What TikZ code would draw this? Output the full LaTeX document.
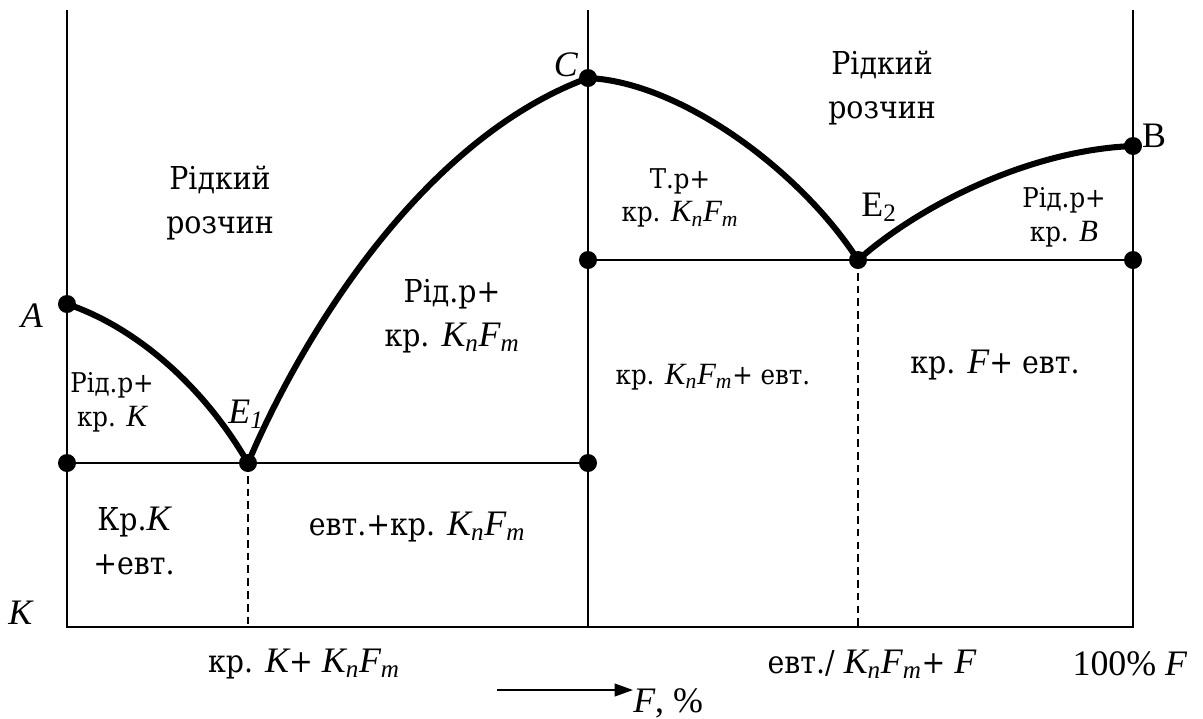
\documentclass[tikz,border=0pt]{standalone}
\usepackage{fontspec}
\setmainfont{Liberation Serif}
\newfontfamily\cyr{DejaVu Serif}[Scale=0.88, FakeStretch=0.9]
\usetikzlibrary{arrows.meta}
\newcommand{\lat}[1]{{\normalfont\itshape #1}}
\newcommand{\KnFm}{\lat{K\textsubscript{n}F\textsubscript{m}}}

\begin{document}
\begin{tikzpicture}[
  x=0.025cm, y=-0.025cm,
  big/.style={font=\cyr\fontsize{25.5}{31}\selectfont, align=center, inner sep=0pt},
  small/.style={font=\cyr\fontsize{22}{24}\selectfont, align=center, inner sep=0pt},
  sym/.style={font=\fontsize{25.5}{31}\selectfont, inner sep=0pt},
  dot/.style={circle, fill, inner sep=0pt, minimum size=0.45cm},
  axis/.style={line width=1.2pt},
  curve/.style={line width=4.3pt, line cap=round, line join=round},
  guide/.style={line width=1pt, dash pattern=on 5.5pt off 3.6pt},
  arr/.style={-{Triangle[length=13pt, width=9pt]}, line width=1.4pt}
]
\useasboundingbox (0,0) rectangle (1203,718);

\coordinate (topK) at (67,10);
\coordinate (topC) at (588,10);
\coordinate (topF) at (1133,10);
\coordinate (botK) at (67,627);
\coordinate (botC) at (588,627);
\coordinate (botF) at (1133,627);
\coordinate (botE1) at (248,627);
\coordinate (botE2) at (858,627);

\draw[axis] (topK) -- (botK) -- (botF) -- (topF);
\draw[axis] (topC) -- (botC);

\node[dot] (A) at (67,304) {};
\node[dot] (E1) at (248,463) {};
\node[dot] (C) at (588,78) {};
\node[dot] (E2) at (858,260) {};
\node[dot] (B) at (1133,146) {};
\node[dot] (s1) at (67,463) {};
\node[dot] (s2) at (588,463) {};
\node[dot] (s3) at (588,260) {};
\node[dot] (s4) at (1133,260) {};

\draw[axis] (s1.center) -- (s2.center);
\draw[axis] (s3.center) -- (s4.center);
\draw[guide] (E1.center) -- (botE1);
\draw[guide] (E2.center) -- (botE2);

\draw[curve] (A.center) .. controls (130,325) and (200,380) .. (E1.center);
\draw[curve] (E1.center) .. controls (300,340) and (420,140) .. (C.center);
\draw[curve] (C.center) .. controls (680,82) and (800,170) .. (E2.center);
\draw[curve] (E2.center) .. controls (920,205) and (1030,150) .. (B.center);

\node[sym] (lA) at (32,316) {\textit{A}};
\node[sym] (lK) at (21,613) {\textit{K}};
\node[sym] (lE1) at (246,414) {\textit{E\textsubscript{1}}};
\node[sym] (lC) at (566,65) {\textit{C}};
\node[sym] (lE2) at (879,207) {E\textsubscript{2}};
\node[sym] (lB) at (1154,136) {B};

\node[big] (liqL) at (220,203) {Рідкий\\розчин};
\node[big] (liqR) at (882,88) {Рідкий\\розчин};
\node[small] (ldK) at (112,402) {Рід.р+\\кр. \lat{K}};
\node[big] (crK) at (134,541) {Кр.\lat{K}\\+евт.};
\node[big] (euKF) at (417,527) {евт.+кр. \KnFm};
\node[big] (ldKF) at (452,316) {Рід.р+\\кр. \KnFm};
\node[small] (tKF) at (680,198) {Т.р+\\кр. \KnFm};
\node[small] (crKF) at (713,377) {кр. \KnFm+ евт.};
\node[big] (crF) at (995,365) {кр. \lat{F}+ евт.};
\node[small] (ldB) at (1064,217) {Рід.р+\\кр. \lat{B}};

\node[big] (bK) at (304,664) {кр. \lat{K}+ \KnFm};
\node[big] (bE) at (872,664) {евт./ \KnFm+ \lat{F}};
\node[sym] (bF) at (1130,664) {100\% \textit{F}};

\coordinate (arS) at (497,690);
\node[sym, anchor=west] (pct) at (633,703) {\textit{F}, \%};
\draw[arr] (arS) -- (pct.west |- arS);
\end{tikzpicture}
\end{document}
